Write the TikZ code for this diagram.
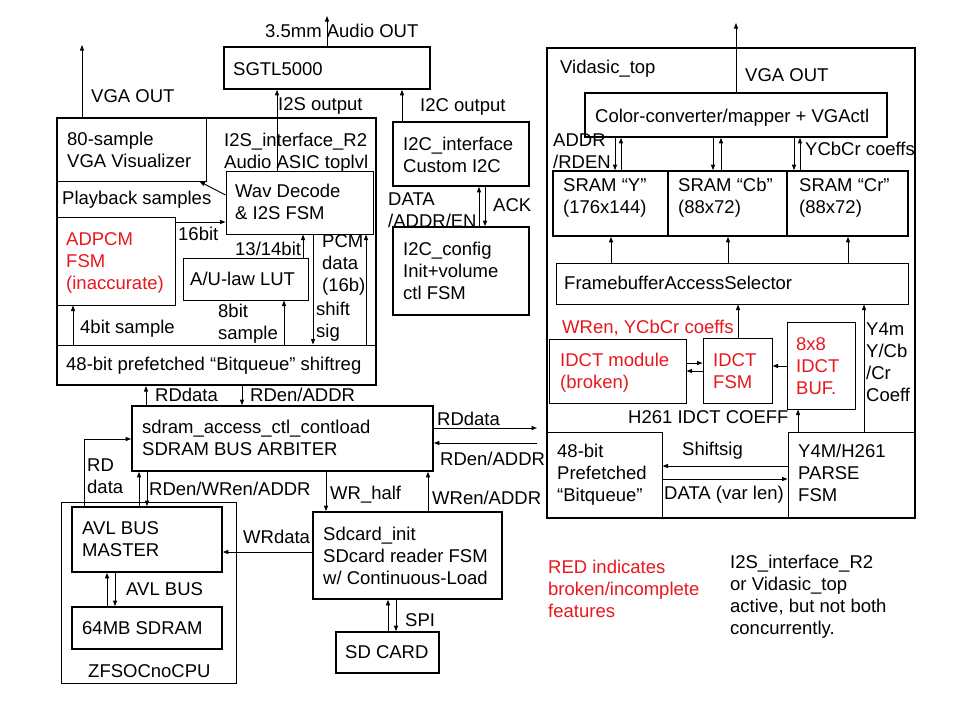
\documentclass[tikz,border=0pt]{standalone}
\usepackage{fontspec}
\setmainfont{Liberation Sans}
\usetikzlibrary{fit,arrows.meta}
\definecolor{redtxt}{RGB}{232,24,30}
\begin{document}
\begin{tikzpicture}[x=1pt,y=-1pt,
  every node/.style={font=\fontsize{18.5}{22}\selectfont},
  bx/.style={draw, line width=1.6pt, inner sep=0pt},
  tbx/.style={draw, line width=1pt, inner sep=0pt},
  obx/.style={draw, line width=2.2pt, inner sep=0pt},
  lbl/.style={inner sep=0pt, anchor=base west, align=left},
  rlbl/.style={lbl, text=redtxt},
  arr/.style={line width=0.9pt, -{Triangle[length=5.5pt,width=4pt]}},
]
\useasboundingbox (0,0) rectangle (960,720);
\fill[white] (0,0) rectangle (960,720);

% ---------- boxes ----------
\node[tbx, fit={(57,118)(206,181)}] (vis) {};
\node[tbx, fit={(226,171)(373,234)}] (wav) {};
\node[tbx, fit={(57,217)(175,305)}] (adpcm) {};
\node[tbx, fit={(183,258)(308,300)}] (lut) {};
\node[tbx, fit={(57,345)(376,385)}] (bitq) {};
\node[obx, fit={(57,118)(376,385)}] (i2s) {};
\node[bx, fit={(224,47)(430,89)}] (sgtl) {};
\node[bx, fit={(393,122)(529,186)}] (i2cif) {};
\node[bx, fit={(393,227)(529,315)}] (i2ccfg) {};
\node[bx, fit={(132,406)(433,471)}] (sdram) {};
\node[tbx, fit={(61,502)(236,683)}] (zfs) {};
\node[bx, fit={(72,507)(222,572)}] (avl) {};
\node[bx, fit={(72,607)(222,649)}] (sdr) {};
\node[bx, fit={(313,512)(502,599)}] (sdci) {};
\node[bx, fit={(336,632)(439,673)}] (sdc) {};
\node[bx, fit={(585,93)(887,137)}] (col) {};
\node[bx, fit={(553,171)(668,236)}] (sy) {};
\node[bx, fit={(668,171)(787,236)}] (scb) {};
\node[bx, fit={(787,171)(908,236)}] (scr) {};
\node[tbx, fit={(556,263)(908,304)}] (fb) {};
\node[tbx, fit={(549,339)(686,403)}] (idm) {};
\node[tbx, fit={(703,338)(772,403)}] (idf) {};
\node[tbx, fit={(787,322)(855,409)}] (buf) {};
\node[tbx, fit={(547,432)(662,518)}] (bq2) {};
\node[tbx, fit={(788,432)(915,518)}] (parse) {};
\node[obx, fit={(547,48)(915,518)}] (vid) {};

% ---------- labels (multi-line: y = baseline of last line) ----------
\node[lbl] (tvgaL) at (91,102) {VGA OUT};
\node[lbl] (t35) at (265,37) {3.5mm Audio OUT};
\node[lbl] (tsgtl) at (233,75) {SGTL5000};
\node[lbl] (ti2sout) at (278,110) {I2S output};
\node[lbl] (tvis) at (67,167) {80-sample\\VGA Visualizer};
\node[lbl] (ti2s) at (224,168) {I2S\_interface\_R2\\Audio ASIC toplvl};
\node[lbl] (tplay) at (62,204) {Playback samples};
\node[lbl] (twav) at (235,219) {Wav Decode\\\& I2S FSM};
\node[rlbl] (tadpcm) at (66,289) {ADPCM\\FSM\\(inaccurate)};
\node[lbl] (t16) at (178,240) {16bit};
\node[lbl] (t1314) at (235,255) {13/14bit};
\node[lbl] (tlut) at (190,285) {A/U-law LUT};
\node[lbl] (tpcm) at (322,291) {PCM\\data\\(16b)};
\node[lbl] (t8bit) at (218,339) {8bit\\sample};
\node[lbl] (tshift) at (316,337) {shift\\sig};
\node[lbl] (t4bit) at (80,333) {4bit sample};
\node[lbl] (tbitq) at (66,370) {48-bit prefetched “Bitqueue” shiftreg};
\node[lbl] (trd1) at (155,401) {RDdata};
\node[lbl] (trden1) at (250,401) {RDen/ADDR};
\node[lbl] (ti2cout) at (420,111) {I2C output};
\node[lbl] (ti2cif) at (403,172) {I2C\_interface\\Custom I2C};
\node[lbl] (tdata) at (388,227) {DATA\\/ADDR/EN};
\node[lbl] (tack) at (493,211) {ACK};
\node[lbl] (ti2ccfg) at (403,299) {I2C\_config\\Init+volume\\ctl FSM};
\node[lbl] (tsdram) at (142,455) {sdram\_access\_ctl\_contload\\SDRAM BUS ARBITER};
\node[lbl] (trd2) at (437,425) {RDdata};
\node[lbl] (trden2) at (440,465) {RDen/ADDR};
\node[lbl] (trddata) at (87,493) {RD\\data};
\node[lbl] (trdwr) at (149,495) {RDen/WRen/ADDR};
\node[lbl] (twrhalf) at (330,499) {WR\_half};
\node[lbl] (twren) at (432,504) {WRen/ADDR};
\node[lbl] (tavl) at (82,556) {AVL BUS\\MASTER};
\node[lbl] (twrdata) at (243,543) {WRdata};
\node[lbl] (tsdci) at (323,584) {Sdcard\_init\\SDcard reader FSM\\w/ Continuous-Load};
\node[lbl] (tavlbus) at (126,595) {AVL BUS};
\node[lbl] (t64) at (82,634) {64MB SDRAM};
\node[lbl] (tspi) at (405,626) {SPI};
\node[lbl] (tsdc) at (345,658) {SD CARD};
\node[lbl] (tzfs) at (88,677) {ZFSOCnoCPU};
\node[lbl] (tvid) at (560,73) {Vidasic\_top};
\node[lbl] (tvgaR) at (745,81) {VGA OUT};
\node[lbl] (tcol) at (595,122) {Color-converter/mapper + VGActl};
\node[lbl] (taddr) at (553,168) {ADDR\\/RDEN};
\node[lbl] (tycc) at (805,155) {YCbCr coeffs};
\node[lbl] (tsy) at (563,213) {SRAM “Y”\\(176x144)};
\node[lbl] (tscb) at (678,213) {SRAM “Cb”\\(88x72)};
\node[lbl] (tscr) at (799,213) {SRAM “Cr”\\(88x72)};
\node[lbl] (tfb) at (564,289) {FramebufferAccessSelector};
\node[rlbl] (twren2) at (562,333) {WRen, YCbCr coeffs};
\node[rlbl] (tidm) at (560,388) {IDCT module\\(broken)};
\node[rlbl] (tidf) at (713,388) {IDCT\\FSM};
\node[rlbl] (tbuf) at (796,394) {8x8\\IDCT\\BUF.};
\node[lbl] (th261) at (628,423) {H261 IDCT COEFF};
\node[lbl] (ty4m) at (866,401) {Y4m\\Y/Cb\\/Cr\\Coeff};
\node[lbl] (tbq2) at (557,501) {48-bit\\Prefetched\\“Bitqueue”};
\node[lbl] (tshiftsig) at (682,455) {Shiftsig};
\node[lbl] (tdatavar) at (664,499) {DATA (var len)};
\node[lbl] (tparse) at (798,501) {Y4M/H261\\PARSE\\FSM};
\node[rlbl] (tred) at (548,617) {RED indicates\\broken/incomplete\\features};
\node[lbl] (tnote) at (730,634) {I2S\_interface\_R2\\or Vidasic\_top\\active, but not both\\concurrently.};

% ---------- connectors ----------
\coordinate (vgaLend) at (82,45);
\coordinate (audend) at (327,16);
\coordinate (vgaRend) at (736,23);
\coordinate (rdout) at (537,428);
\coordinate (rdin) at (537,443);
\draw[arr] (vgaLend |- i2s.north) -- (vgaLend);
\draw[arr] (audend |- sgtl.north) -- (audend);
\draw[arr] (277,0 |- wav.north) -- (277,0 |- sgtl.south);
\draw[arr] (402,0 |- i2cif.north) -- (402,0 |- sgtl.south);
\draw[arr] (wav.west |- 0,195) -- ([xshift=-7pt]vis.south east);
\draw[arr] (adpcm.east |- 0,222) -- (wav.west |- 0,222);
\draw[arr] (303,0 |- lut.north) -- (303,0 |- wav.south);
\draw[arr] (313,0 |- wav.south) -- (313,0 |- bitq.north);
\draw[arr] (366,0 |- bitq.north) -- (366,0 |- wav.south);
\draw[arr] (284,0 |- bitq.north) -- (284,0 |- lut.south);
\draw[arr] (73,0 |- bitq.north) -- (73,0 |- adpcm.south);
\draw[arr] (146,0 |- sdram.north) -- (146,0 |- i2s.south);
\draw[arr] (242,0 |- i2s.south) -- (242,0 |- sdram.north);
\draw[arr] (479,0 |- i2ccfg.north) -- (479,0 |- i2cif.south);
\draw[arr] (485,0 |- i2cif.south) -- (485,0 |- i2ccfg.north);
\draw[arr] (sdram.east |- rdout) -- (rdout);
\draw[arr] (rdin) -- (sdram.east |- rdin);
\draw[arr] (84,0 |- avl.north) |- (sdram.west |- 0,439);
\draw[arr] (139,0 |- avl.north) -- (139,0 |- sdram.south);
\draw[arr] (147,0 |- sdram.south) -- (147,0 |- avl.north);
\draw[arr] (326,0 |- sdram.south) -- (326,0 |- sdci.north);
\draw[arr] (428,0 |- sdci.north) -- (428,0 |- sdram.south);
\draw[arr] (sdci.west |- 0,552) -- (avl.east |- 0,552);
\draw[arr] (107,0 |- sdr.north) -- (107,0 |- avl.south);
\draw[arr] (115,0 |- avl.south) -- (115,0 |- sdr.north);
\draw[arr] (388,0 |- sdc.north) -- (388,0 |- sdci.south);
\draw[arr] (396,0 |- sdci.south) -- (396,0 |- sdc.north);
\draw[arr] (vgaRend |- col.north) -- (vgaRend);
\foreach \a/\b/\n in {615/621/sy, 713/721/scb, 794/800/scr} {
  \draw[arr] (\a,0 |- col.south) -- (\a,0 |- \n.north);
  \draw[arr] (\b,0 |- \n.north) -- (\b,0 |- col.south);
}
\foreach \x/\n in {611/sy, 728/scb, 848/scr}
  \draw[arr] (\x,0 |- fb.north) -- (\x,0 |- \n.south);
\draw[arr] (738,0 |- idf.north) -- (738,0 |- fb.south);
\draw[arr] (idm.east |- 0,363) -- (idf.west |- 0,363);
\draw[arr] (idf.west |- 0,371) -- (idm.east |- 0,371);
\draw[arr] (buf.west |- 0,366) -- (idf.east |- 0,366);
\draw[arr] (798,0 |- parse.north) -- (798,0 |- buf.south);
\draw[arr] (864,0 |- parse.north) -- (864,0 |- fb.south);
\draw[arr] (parse.west |- 0,466) -- (bq2.east |- 0,466);
\draw[arr] (bq2.east |- 0,479) -- (parse.west |- 0,479);
\end{tikzpicture}
\end{document}
